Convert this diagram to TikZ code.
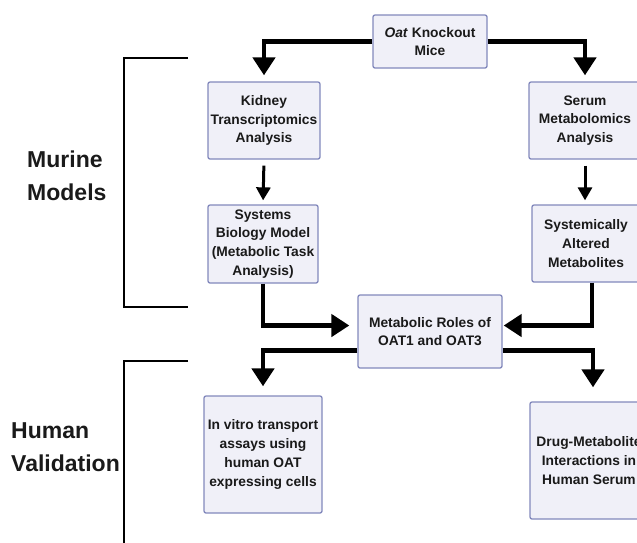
\documentclass[tikz,border=0pt]{standalone}
\usepackage{fontspec}
\setmainfont{Liberation Sans}
\usetikzlibrary{arrows.meta}
\definecolor{boxfill}{HTML}{F0F0F8}
\definecolor{boxline}{HTML}{8288BC}
\definecolor{ink}{HTML}{1A1A1A}
\tikzset{
  box/.style={draw=boxline, fill=boxfill, line width=1.3pt, rounded corners=2pt,
    inner sep=0pt, align=center, text=ink, font=\bfseries\fontsize{13.8}{18.8}\selectfont},
  bigarrow/.style={line width=4.5pt, -{Triangle[width=22pt,length=18pt]}},
  smallarrow/.style={line width=3pt, -{Triangle[width=14pt,length=13pt]}},
  bracket/.style={line width=1.5pt},
  grouplabel/.style={anchor=west, align=left, text=ink, inner sep=0pt,
    font=\bfseries\fontsize{23}{32.5}\selectfont}
}
\begin{document}
\begin{tikzpicture}[x=1pt,y=-1pt]
\clip (0,0) rectangle (637,542);
\draw
(430,41.5) node [box, minimum width=114pt, minimum height=53pt] (oat) {\textit{Oat} Knockout\\Mice}
(264,120.5) node [box, minimum width=112pt, minimum height=77pt] (kidney) {Kidney\\Transcriptomics\\Analysis}
(585,120.5) node [box, minimum width=112pt, minimum height=77pt] (serum) {Serum\\Metabolomics\\Analysis}
(263,244) node [box, minimum width=110pt, minimum height=78pt] (systems) {Systems\\Biology Model\\(Metabolic Task\\Analysis)}
(586,243.5) node [box, minimum width=108pt, minimum height=77pt] (altered) {Systemically\\Altered\\Metabolites}
(430,331.5) node [box, minimum width=144pt, minimum height=73pt] (roles) {Metabolic Roles of\\OAT1 and OAT3}
(263,454.5) node [box, minimum width=118pt, minimum height=117pt] (invitro) {In vitro transport\\assays using\\human OAT\\expressing cells}
(589,460.5) node [box, minimum width=118pt, minimum height=117pt] (drug) {Drug-Metabolite\\Interactions in\\Human Serum};
% arrows
\draw [bigarrow, shorten >=6pt] (oat.west) -| (kidney.north);
\draw [bigarrow, shorten >=6pt] (oat.east) -| (serum.north);
\draw [smallarrow, shorten <=6pt, shorten >=4pt] (kidney.south) -- (systems.north);
\draw [smallarrow, shorten <=6pt, shorten >=4pt] (serum.south) -- (serum.south |- altered.north);
\draw [bigarrow, shorten >=8pt] (systems.south) |- ([yshift=6pt]roles.west);
\draw [bigarrow, shorten >=1pt] ([xshift=6pt]altered.south) |- ([yshift=6pt]roles.east);
\draw [bigarrow, shorten >=9pt] ([yshift=-19pt]roles.west) -| (invitro.north);
\draw [bigarrow, shorten >=14pt] ([yshift=-19pt]roles.east) -| ([xshift=4pt]drug.north);
% brackets
\draw [bracket] (188,58) -| (124,307) -- (188,307);
\draw [bracket] (188,361) -| (124,545);
\draw (27,176) node [grouplabel] (murine) {Murine\\Models}
(11,447) node [grouplabel] (human) {Human\\Validation};
\end{tikzpicture}
\end{document}
